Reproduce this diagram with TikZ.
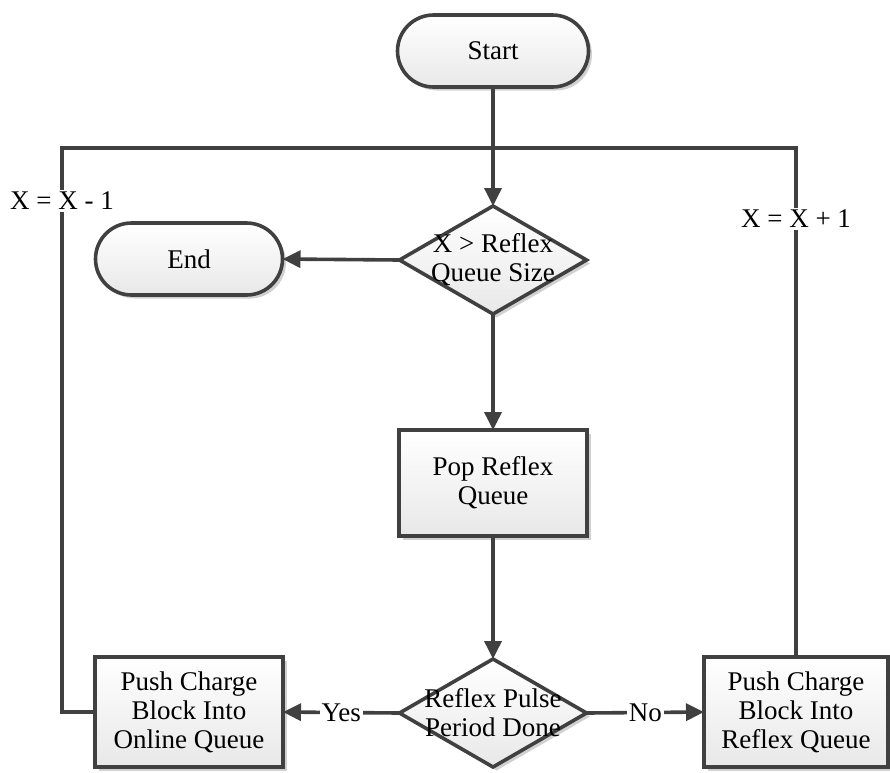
\documentclass[tikz,border=0pt]{standalone}
\usepackage{fontspec}
\setmainfont{Liberation Serif}
\usetikzlibrary{shapes.geometric,arrows.meta,shadows}
\definecolor{edge}{HTML}{404040}
\begin{document}
\begin{tikzpicture}[x=1pt,y=-1pt,
  font=\fontsize{27}{29}\selectfont,
  every node/.style={inner sep=0pt, outer sep=0pt},
  boxfill/.style={draw=edge, line width=3.6pt, top color=white, bottom color=black!9,
    drop shadow={shadow xshift=3.5pt, shadow yshift=-3.5pt, opacity=0.18, fill=black}},
  terminal/.style={boxfill, rectangle, rounded corners=36pt, minimum width=#1, minimum height=72pt},
  process/.style={boxfill, rectangle, align=center, minimum width=#1, minimum height=110pt},
  decision/.style={boxfill, diamond, minimum width=187pt, minimum height=108pt},
  dtext/.style={align=center},
  flow/.style={draw=edge, line width=3.6pt},
  arrow/.style={flow, -{Triangle[length=18pt,width=17pt]}},
  tag/.style={fill=white, inner sep=2pt}]
  \useasboundingbox (0,0) rectangle (890,772);

  % nodes
  \node[terminal=191pt] (start) at (493,51) {Start};
  \node[decision] (chk) at (493,260) {};
  \node[dtext] (chkt) at (493,260) {X > Reflex\\Queue Size};
  \node[terminal=187pt] (end) at (189,259) {End};
  \node[process=188pt, minimum height=106pt] (pop) at (493,483) {Pop Reflex\\Queue};
  \node[decision] (pulse) at (493,713) {};
  \node[dtext] (pulset) at (493,713) {Reflex Pulse\\Period Done};
  \node[process=188pt] (online) at (189,712) {Push Charge\\Block Into\\Online Queue};
  \node[process=184pt] (reflex) at (796,712) {Push Charge\\Block Into\\Reflex Queue};

  % loop corners
  \coordinate (join) at (493,148);
  \coordinate (tl) at (62,148);
  \coordinate (tr) at (796,148);

  % connectors
  \draw[arrow] (start.south) -- (chk.north);
  \draw[arrow] (chk.west) -- (end.east);
  \draw[arrow] (chk.south) -- (pop.north);
  \draw[arrow] (pop.south) -- (pulse.north);
  \draw[arrow] (pulse.west) -- node[tag] (yes) {Yes} (online.east);
  \draw[arrow] (pulse.east) -- node[tag] (no) {No} (reflex.west);
  \draw[flow, line join=miter] (online.west) -| (tl) -- (join);
  \draw[flow, line join=miter] (reflex.north) -- (tr) -- (join);

  % counter updates on the loop lines
  \node[tag] (dec) at (62,201) {X = X - 1};
  \node[tag] (inc) at (796,219) {X = X + 1};
\end{tikzpicture}
\end{document}
